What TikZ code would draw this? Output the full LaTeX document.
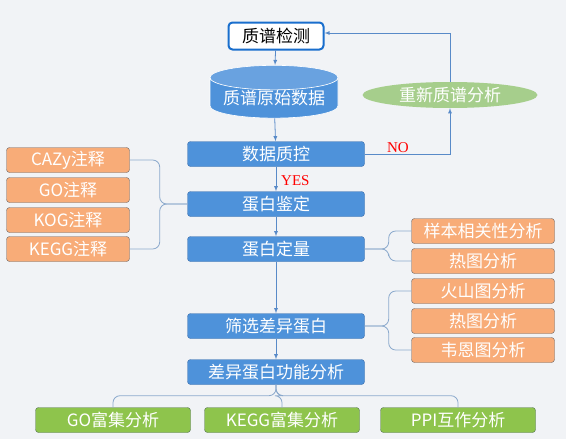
\documentclass[tikz,border=0pt]{standalone}
\usepackage{fontspec}
\setmainfont{Noto Sans CJK SC}
\newfontfamily\tnr{Liberation Serif}
\usepackage{tikz}
\usetikzlibrary{arrows,shapes.geometric}

\definecolor{bgc}{RGB}{241,243,246}
\definecolor{boxblue}{RGB}{78,146,218}
\definecolor{boxblueline}{RGB}{60,110,170}
\definecolor{boxorange}{RGB}{248,172,120}
\definecolor{orangeline}{RGB}{105,100,100}
\definecolor{boxgreen}{RGB}{142,196,76}
\definecolor{greenline}{RGB}{85,115,85}
\definecolor{ellgreen}{RGB}{166,206,140}
\definecolor{arrowblue}{RGB}{88,138,200}
\definecolor{bracec}{RGB}{140,170,205}
\definecolor{topline}{RGB}{25,110,205}

\tikzset{
  txt/.style={font=\fontsize{17}{17}\selectfont, inner sep=0pt},
  bluebox/.style={txt, draw=boxblueline, fill=boxblue, text=white, rounded corners=3pt,
    minimum width=177pt, minimum height=25pt},
  orangebox/.style={txt, draw=orangeline, fill=boxorange, text=white, rounded corners=3pt,
    minimum height=25pt},
  greenbox/.style={txt, draw=greenline, fill=boxgreen, text=white, rounded corners=3pt,
    minimum width=155pt, minimum height=25pt},
  flow/.style={->, >=latex, draw=arrowblue, line width=0.8pt},
  brace/.style={draw=bracec, line width=0.8pt, rounded corners=7pt},
  yesno/.style={text=red, font=\tnr\fontsize{15}{15}\selectfont, inner sep=0pt}
}

\begin{document}
\begin{tikzpicture}[x=1pt, y=-1pt]
\fill[bgc] (0,0) rectangle (566,439);
\useasboundingbox (0,0) rectangle (566,439);

% main chain
\node[txt, draw=topline, line width=2pt, fill=white, rounded corners=4pt,
  minimum width=95pt, minimum height=27pt] at (276,36) (jiance) {质谱检测};
\node[txt, cylinder, shape border rotate=90, aspect=0.24, draw=white, line width=0.6pt,
  cylinder uses custom fill, cylinder body fill=boxblue, cylinder end fill=boxblue!85,
  text=white, minimum width=128pt, minimum height=36pt] at (274,98) (yuanshi) {质谱原始数据};
\node[bluebox] at (276,154) (zhikong) {数据质控};
\node[bluebox] at (276,204) (jianding) {蛋白鉴定};
\node[bluebox] at (276,249) (dingliang) {蛋白定量};
\node[bluebox] at (276,326) (shaixuan) {筛选差异蛋白};
\node[bluebox] at (276,372) (gongneng) {差异蛋白功能分析};

% re-run
\node[txt, ellipse, fill=ellgreen, text=white, minimum width=175pt, minimum height=26pt]
  at (450,95) (chongxin) {重新质谱分析};

% annotation
\node[orangebox, minimum width=123pt] at (68,160) (cazy) {CAZy注释};
\node[orangebox, minimum width=123pt] at (68,190) (go) {GO注释};
\node[orangebox, minimum width=123pt] at (68,220) (kog) {KOG注释};
\node[orangebox, minimum width=123pt] at (68,249) (kegg) {KEGG注释};

% quantitation analyses
\node[orangebox, minimum width=143pt] at (483,231) (xiangguan) {样本相关性分析};
\node[orangebox, minimum width=143pt] at (483,261) (retu1) {热图分析};
\node[orangebox, minimum width=143pt] at (483,291) (huoshan) {火山图分析};
\node[orangebox, minimum width=143pt] at (483,321) (retu2) {热图分析};
\node[orangebox, minimum width=143pt] at (483,350) (weien) {韦恩图分析};

% enrichment
\node[greenbox] at (113,420) (gofj) {GO富集分析};
\node[greenbox] at (282,420) (keggfj) {KEGG富集分析};
\node[greenbox] at (458,420) (ppi) {PPI互作分析};

\path[flow] (jiance) -- (yuanshi);
\path[flow] (yuanshi) -- (zhikong);
\path[flow] (zhikong) -- (jianding);
\path[flow] (jianding) -- (dingliang);
\path[flow] (dingliang) -- (shaixuan);
\path[flow] (shaixuan) -- (gongneng);
\node[yesno, anchor=west] at (281,181) (yes) {YES};

\draw[flow] (zhikong.east) -| (chongxin.south);
\draw[flow] (chongxin.north) |- ([yshift=3pt]jiance.east);
\node[yesno] at (398,148) (no) {NO};

\draw[brace] (cazy.east) -- ++(30,0) |- (jianding.west);
\draw[brace] (kegg.east) -- ++(30,0) |- (jianding.west);
\draw[brace] (dingliang.east) -- ++(24,0) |- (xiangguan.west);
\draw[brace] (dingliang.east) -- ++(24,0) |- (retu1.west);
\draw[brace] (shaixuan.east) -- ++(24,0) |- (huoshan.west);
\draw[brace] (shaixuan.east) -- ++(24,0) |- (weien.west);
\draw[brace] (gongneng.south) -- ++(0,11) -| (gofj.north);
\draw[brace] (gongneng.south) -- ++(0,11) -| (keggfj.north);
\draw[brace] (gongneng.south) -- ++(0,11) -| (ppi.north);
\end{tikzpicture}
\end{document}
